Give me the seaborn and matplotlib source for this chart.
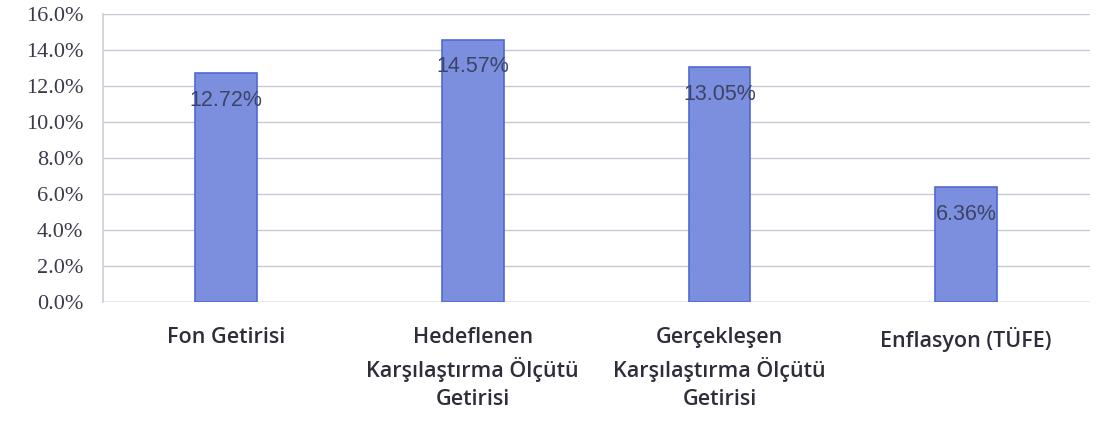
import pandas as pd
import matplotlib.pyplot as plt
import seaborn as sns
from matplotlib.ticker import PercentFormatter

# Chart values
categories = ["Fon Getirisi",
              "Hedeflenen\nKarşılaştırma Ölçütü\nGetirisi",
              "Gerçekleşen\nKarşılaştırma Ölçütü\nGetirisi",
              "Enflasyon (TÜFE)"]
returns = [12.72, 14.57, 13.05, 6.36]
y_ticks = [0, 2, 4, 6, 8, 10, 12, 14, 16]

df = pd.DataFrame({"category": categories, "value": returns})

sns.set_theme(style="white")
plt.rcParams["font.family"] = ["Open Sans", "DejaVu Sans"]

fig = plt.figure(figsize=(11.05, 4.37), dpi=100)
ax = fig.add_axes([0.093, 0.309, 0.893, 0.659])

sns.barplot(data=df, x="category", y="value", color="#7b8fde",
            edgecolor="#4f69d4", linewidth=1.2, width=0.25, saturation=1, ax=ax)

# Value labels just inside the top of each bar
for i, v in enumerate(returns):
    ax.annotate(f"{v:.2f}%", (i, v), xytext=(0, -27), textcoords="offset pixels",
                ha="center", va="center", fontsize=15.5, color="#3c4466",
                family=["Liberation Sans", "DejaVu Sans"])

ax.set_ylim(0, 16)
ax.set_yticks(y_ticks)
ax.yaxis.set_major_formatter(PercentFormatter(decimals=1))
ax.set_xlim(-0.5, 3.5)
ax.grid(axis="y", color="#c8c8d6", linewidth=1)
ax.set_axisbelow(True)

for side in ["top", "right", "bottom"]:
    ax.spines[side].set_visible(False)
ax.spines["left"].set_color("#cfcfd8")
ax.axhline(0, color="#b8b8c8", linewidth=1, zorder=0)

ax.set_xlabel("")
ax.set_ylabel("")
ax.tick_params(axis="y", length=0, pad=14, labelsize=16, labelcolor="#3a3a4a")
ax.tick_params(axis="x", length=0, pad=18, labelsize=15.5, labelcolor="#2e2e3a")
for lbl in ax.get_yticklabels():
    lbl.set_family(["Liberation Serif", "DejaVu Serif"])
for lbl in ax.get_xticklabels():
    lbl.set_linespacing(1.45)
    lbl.set_fontweight(600)

fig.savefig("out.png", dpi=100)
